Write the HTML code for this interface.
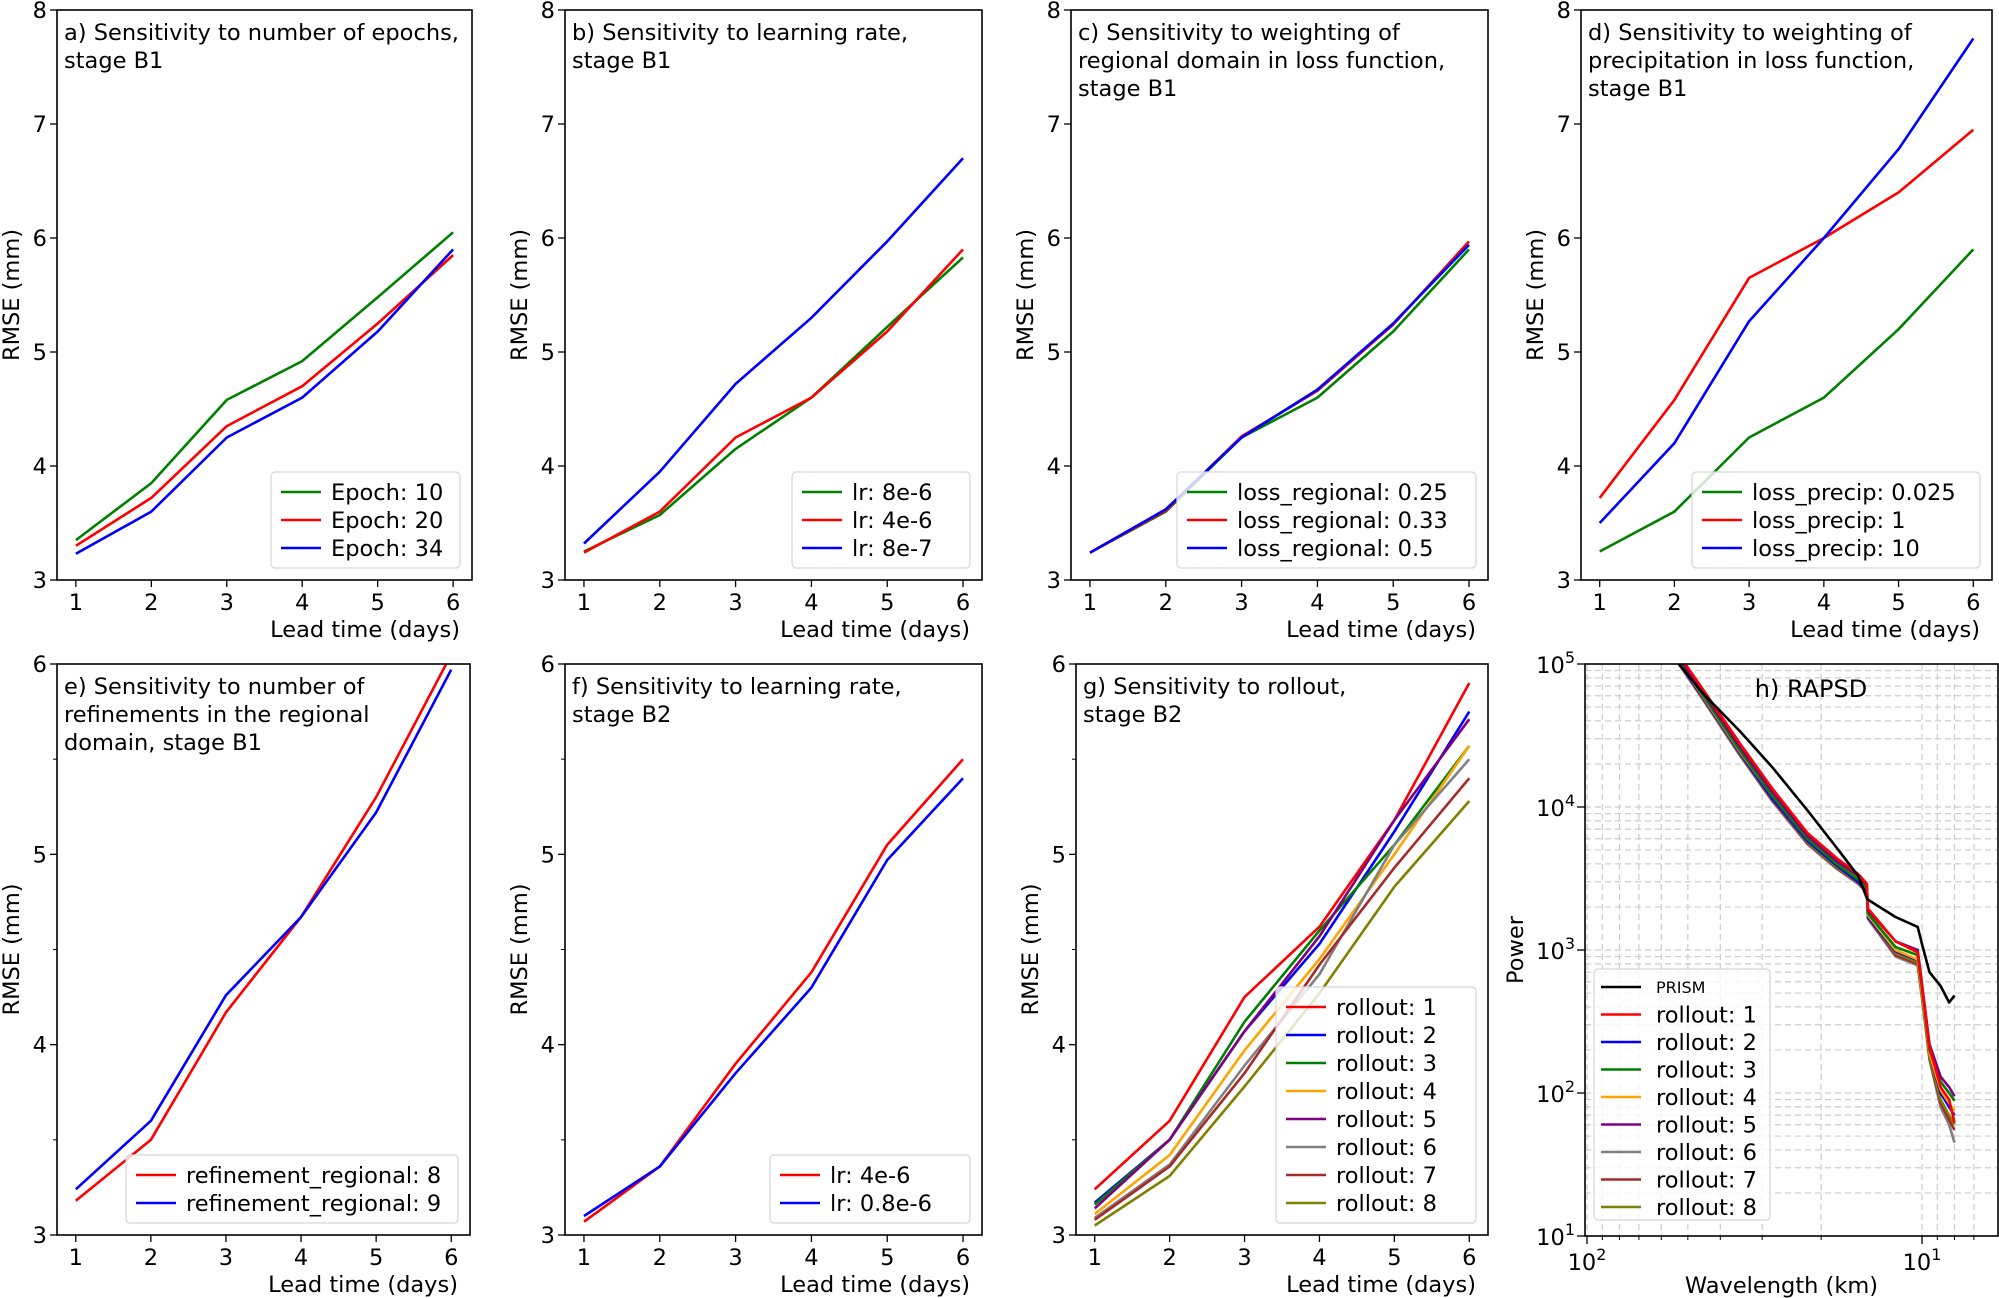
<!DOCTYPE html>
<html><head><meta charset="utf-8">
<style>
html,body{margin:0;padding:0;background:#fff;}
svg{display:block;font-family:"DejaVu Sans","Liberation Sans",sans-serif;}
</style></head>
<body>
<svg id="fig" width="1999" height="1298" viewBox="0 0 1999 1298" xmlns="http://www.w3.org/2000/svg"></svg>
<script>
// ---------- data ----------
const leadDays = [1,2,3,4,5,6];
const xTicks = [1,2,3,4,5,6];
const yTicksTop = [3,4,5,6,7,8];
const yTicksBottom = [3,4,5,6];
// a
const epoch10 = [3.35,3.85,4.58,4.92,5.48,6.05];
const epoch20 = [3.30,3.72,4.35,4.70,5.25,5.85];
const epoch34 = [3.23,3.60,4.25,4.60,5.18,5.90];
// b
const lrB1_8e6 = [3.25,3.57,4.15,4.60,5.22,5.83];
const lrB1_4e6 = [3.24,3.60,4.25,4.60,5.18,5.90];
const lrB1_8e7 = [3.32,3.95,4.72,5.30,5.97,6.70];
// c
const reg025 = [3.24,3.60,4.25,4.60,5.18,5.90];
const reg033 = [3.24,3.61,4.26,4.66,5.24,5.97];
const reg05  = [3.24,3.62,4.25,4.67,5.25,5.94];
// d
const precip0025 = [3.25,3.60,4.25,4.60,5.20,5.90];
const precip1    = [3.72,4.58,5.65,6.00,6.40,6.95];
const precip10   = [3.50,4.20,5.27,6.00,6.78,7.75];
// e
const refine8 = [3.18,3.50,4.17,4.67,5.30,6.05];
const refine9 = [3.24,3.60,4.26,4.67,5.22,5.97];
// f
const lrB2_4e6  = [3.07,3.36,3.90,4.38,5.05,5.50];
const lrB2_08e6 = [3.10,3.36,3.85,4.30,4.97,5.40];
// g
const roll1 = [3.24,3.60,4.25,4.62,5.18,5.90];
const roll2 = [3.17,3.50,4.07,4.53,5.12,5.75];
const roll3 = [3.16,3.50,4.12,4.60,5.05,5.57];
const roll4 = [3.11,3.42,3.97,4.45,5.00,5.57];
const roll5 = [3.14,3.50,4.07,4.57,5.18,5.71];
const roll6 = [3.09,3.37,3.89,4.37,5.05,5.50];
const roll7 = [3.08,3.36,3.85,4.42,4.93,5.40];
const roll8 = [3.05,3.31,3.78,4.27,4.83,5.28];
// h (RAPSD) wavelength in km, power
const wavelengths = [55,45,35,28,22,18,15.5,14.6,14.5,12,10.3,10.0,9.5,8.8,8.3,8.0];
const psdPrism = [110000,62000,34000,19000,9500,5200,3300,2300,2250,1700,1450,1100,700,560,430,480];
const psdRoll1 = [130000,66000,28000,13500,6600,4400,3400,2900,1950,1150,960,560,210,110,90,62];
const psdRoll2 = [115000,58000,24000,11500,5800,3900,3000,2600,1700,980,850,500,190,100,80,70];
const psdRoll3 = [118000,60000,25000,12000,6000,4000,3100,2700,1800,1050,920,540,200,120,100,88];
const psdRoll4 = [118000,59000,24500,12000,6000,4050,3150,2700,1750,1000,860,500,190,105,85,75];
const psdRoll5 = [125000,63000,26500,12800,6300,4200,3300,2850,1900,1150,1000,580,220,130,110,95];
const psdRoll6 = [112000,56000,23000,11000,5500,3700,2900,2500,1650,900,780,460,170,80,60,45];
const psdRoll7 = [114000,57000,23500,11200,5600,3750,2950,2550,1680,920,800,470,175,85,65,55];
const psdRoll8 = [116000,58000,24000,11500,5700,3800,3000,2600,1700,950,820,480,180,90,70,60];

const C = {green:'#008000',red:'#ff0000',blue:'#0000ff',orange:'#ffa500',purple:'#800080',gray:'#808080',brown:'#a52a2a',olive:'#808000',black:'#000000'};
const FS = 22.5;
const NS='http://www.w3.org/2000/svg';
const svg=document.getElementById('fig');
function mk(tag,attrs,parent){const e=document.createElementNS(NS,tag);for(const k in attrs)e.setAttribute(k,attrs[k]);(parent||svg).appendChild(e);return e;}

const panels=[
 {id:'a',x0:57,x1:472,y0:10,y1:580,ymin:3,ymax:8,yt:yTicksTop,minor:false,title:['a) Sensitivity to number of epochs,','stage B1'],
  series:[['Epoch: 10',epoch10,C.green],['Epoch: 20',epoch20,C.red],['Epoch: 34',epoch34,C.blue]]},
 {id:'b',x0:565,x1:982,y0:10,y1:580,ymin:3,ymax:8,yt:yTicksTop,minor:false,title:['b) Sensitivity to learning rate,','stage B1'],
  series:[['lr: 8e-6',lrB1_8e6,C.green],['lr: 4e-6',lrB1_4e6,C.red],['lr: 8e-7',lrB1_8e7,C.blue]]},
 {id:'c',x0:1071,x1:1488,y0:10,y1:580,ymin:3,ymax:8,yt:yTicksTop,minor:false,title:['c) Sensitivity to weighting of','regional domain in loss function,','stage B1'],
  series:[['loss_regional: 0.25',reg025,C.green],['loss_regional: 0.33',reg033,C.red],['loss_regional: 0.5',reg05,C.blue]]},
 {id:'d',x0:1581,x1:1992,y0:10,y1:580,ymin:3,ymax:8,yt:yTicksTop,minor:false,title:['d) Sensitivity to weighting of','precipitation in loss function,','stage B1'],
  series:[['loss_precip: 0.025',precip0025,C.green],['loss_precip: 1',precip1,C.red],['loss_precip: 10',precip10,C.blue]]},
 {id:'e',x0:57,x1:470,y0:664,y1:1235,ymin:3,ymax:6,yt:yTicksBottom,minor:true,title:['e) Sensitivity to number of','refinements in the regional','domain, stage B1'],
  series:[['refinement_regional: 8',refine8,C.red],['refinement_regional: 9',refine9,C.blue]]},
 {id:'f',x0:565,x1:982,y0:664,y1:1235,ymin:3,ymax:6,yt:yTicksBottom,minor:true,title:['f) Sensitivity to learning rate,','stage B2'],
  series:[['lr: 4e-6',lrB2_4e6,C.red],['lr: 0.8e-6',lrB2_08e6,C.blue]]},
 {id:'g',x0:1076,x1:1488,y0:664,y1:1235,ymin:3,ymax:6,yt:yTicksBottom,minor:true,title:['g) Sensitivity to rollout,','stage B2'],
  series:[['rollout: 1',roll1,C.red],['rollout: 2',roll2,C.blue],['rollout: 3',roll3,C.green],['rollout: 4',roll4,C.orange],['rollout: 5',roll5,C.purple],['rollout: 6',roll6,C.gray],['rollout: 7',roll7,C.brown],['rollout: 8',roll8,C.olive]]}
];

panels.forEach(p=>{
  const g=mk('g',{});
  
  
  const sx=v=>p.x0+(v-0.75)/5.5*(p.x1-p.x0);
  const sy=v=>p.y1-(v-p.ymin)/(p.ymax-p.ymin)*(p.y1-p.y0);
  const cid='clip'+p.id;
  const cp=mk('clipPath',{id:cid},g);mk('rect',{x:p.x0,y:p.y0,width:p.x1-p.x0,height:p.y1-p.y0},cp);
  p.series.forEach(s=>{
    const pts=leadDays.map((d,i)=>sx(d).toFixed(1)+','+sy(s[1][i]).toFixed(1)).join(' ');
    const pl=mk('polyline',{points:pts,fill:'none',stroke:s[2],'stroke-width':2.6,'clip-path':'url(#'+cid+')','stroke-linejoin':'round'},g);
    
    
  });
  const fr=mk('rect',{x:p.x0,y:p.y0,width:p.x1-p.x0,height:p.y1-p.y0,fill:'none',stroke:'#000','stroke-width':1.6},g);
  
  
  xTicks.forEach(t=>{
    mk('line',{x1:sx(t),x2:sx(t),y1:p.y1,y2:p.y1+7,stroke:'#000','stroke-width':1.3},g);
    const tx=mk('text',{x:sx(t),y:p.y1+30,'font-size':FS,'text-anchor':'middle'},g);tx.textContent=t;
    
    
  });
  p.yt.forEach(t=>{
    mk('line',{x1:p.x0-7,x2:p.x0,y1:sy(t),y2:sy(t),stroke:'#000','stroke-width':1.3},g);
    const ty=mk('text',{x:p.x0-10,y:sy(t)+8,'font-size':FS,'text-anchor':'end'},g);ty.textContent=t;
    
    
    if(p.minor && t<p.ymax) mk('line',{x1:p.x0-4,x2:p.x0,y1:sy(t+0.5),y2:sy(t+0.5),stroke:'#000','stroke-width':1},g);
  });
  const xl=mk('text',{x:p.x1-12,y:p.y1+57,'font-size':FS,'text-anchor':'end'},g);xl.textContent='Lead time (days)';
  
  
  const cy=(p.y0+p.y1)/2;
  const yl=mk('text',{x:p.x0-38,y:cy,'font-size':FS,'text-anchor':'middle',transform:'rotate(-90 '+(p.x0-38)+' '+cy+')'},g);yl.textContent='RMSE (mm)';
  
  
  p.title.forEach((ln,i)=>{
    const t=mk('text',{x:p.x0+7,y:p.y0+30+i*28,'font-size':FS},g);t.textContent=ln;
    
    
  });
  const rowH=28;
  const maxLen=Math.max(...p.series.map(s=>s[0].length));
  const lw=90+maxLen*11;
  const lh=p.series.length*rowH+12;
  const lx=p.x1-12-lw, ly=p.y1-12-lh;
  const lg=mk('g',{},g);
  
  
  mk('rect',{x:lx,y:ly,width:lw,height:lh,rx:4,fill:'#fff','fill-opacity':0.8,stroke:'#d6d6d6','stroke-width':1.2},lg);
  p.series.forEach((s,i)=>{
    const yy=ly+6+rowH*i+rowH/2;
    mk('line',{x1:lx+10,x2:lx+50,y1:yy,y2:yy,stroke:s[2],'stroke-width':2.6},lg);
    const t=mk('text',{x:lx+60,y:yy+8,'font-size':FS},lg);t.textContent=s[0];
    
    
  });
});

// ---------- panel h ----------
(function(){
  const x0=1585,x1=1998,y0=664,y1=1236;
  const dec=335;
  const sx=w=>1587+(2-Math.log10(w))*dec;
  const sy=v=>y1-(Math.log10(v)-1)/4*(y1-y0);
  const g=mk('g',{});
  
  
  const cp=mk('clipPath',{id:'cliph'},g);mk('rect',{x:x0,y:y0,width:x1-x0,height:y1-y0},cp);
  const gridX=[100,90,80,70,60,50,40,30,20,10,9,8,7];
  gridX.forEach(w=>{const X=sx(w);if(X>x0&&X<x1)mk('line',{x1:X,x2:X,y1:y0,y2:y1,stroke:'#cccccc','stroke-width':1.2,'stroke-dasharray':'6,4'},g);});
  for(let d=1;d<5;d++)for(let m=1;m<10;m++){const v=m*Math.pow(10,d);const Y=sy(v);if(Y>y0&&Y<y1)mk('line',{x1:x0,x2:x1,y1:Y,y2:Y,stroke:'#cccccc','stroke-width':1.2,'stroke-dasharray':'6,4'},g);}
  const series=[['PRISM',psdPrism,C.black],['rollout: 1',psdRoll1,C.red],['rollout: 2',psdRoll2,C.blue],['rollout: 3',psdRoll3,C.green],['rollout: 4',psdRoll4,C.orange],['rollout: 5',psdRoll5,C.purple],['rollout: 6',psdRoll6,C.gray],['rollout: 7',psdRoll7,C.brown],['rollout: 8',psdRoll8,C.olive]];
  const order=[6,7,8,2,4,3,5,1,0];
  order.forEach(k=>{const s=series[k];
    const pts=wavelengths.map((w,i)=>sx(w).toFixed(1)+','+sy(s[1][i]).toFixed(1)).join(' ');
    const pl=mk('polyline',{points:pts,fill:'none',stroke:s[2],'stroke-width':2.6,'clip-path':'url(#cliph)','stroke-linejoin':'round'},g);
    
    
  });
  const fr=mk('rect',{x:x0,y:y0,width:x1-x0,height:y1-y0,fill:'none',stroke:'#000','stroke-width':1.6},g);
  
  
  [[100,'2'],[10,'1']].forEach(([w,e])=>{
    const X=sx(w);mk('line',{x1:X,x2:X,y1:y1,y2:y1+8,stroke:'#000','stroke-width':1.3},g);
    const t=mk('text',{x:X,y:y1+34,'font-size':FS,'text-anchor':'middle'},g);
    t.textContent='10';const ts=mk('tspan',{dy:-10,'font-size':16},t);ts.textContent=e;
    
    
  });
  gridX.forEach(w=>{const X=sx(w);if(X>x0&&X<x1&&w!==100&&w!==10)mk('line',{x1:X,x2:X,y1:y1,y2:y1+4,stroke:'#000','stroke-width':1},g);});
  [[10,'1'],[100,'2'],[1000,'3'],[10000,'4'],[100000,'5']].forEach(([v,e])=>{
    const Y=sy(v);mk('line',{x1:x0-8,x2:x0,y1:Y,y2:Y,stroke:'#000','stroke-width':1.3},g);
    const t=mk('text',{x:x0-10,y:Y+9,'font-size':FS,'text-anchor':'end'},g);
    t.textContent='10';const ts=mk('tspan',{dy:-10,'font-size':16},t);ts.textContent=e;
    
    
  });
  const xl=mk('text',{x:(x0+x1)/2-10,y:y1+57,'font-size':FS,'text-anchor':'middle'},g);xl.textContent='Wavelength (km)';
  
  
  const cy=(y0+y1)/2;
  const yl=mk('text',{x:x0-62,y:cy,'font-size':FS,'text-anchor':'middle',transform:'rotate(-90 '+(x0-62)+' '+cy+')'},g);yl.textContent='Power';
  
  
  const tt=mk('text',{x:1811,y:697,'font-size':24,'text-anchor':'middle'},g);tt.textContent='h) RAPSD';
  
  
  const lg=mk('g',{},g);
  
  
  const lx=1594,ly=969,lw=176,lh=251,rowH=27.5;
  mk('rect',{x:lx,y:ly,width:lw,height:lh,rx:4,fill:'#fff','fill-opacity':0.8,stroke:'#d6d6d6','stroke-width':1.2},lg);
  series.forEach((s,i)=>{
    const yy=ly+18+rowH*i;
    mk('line',{x1:lx+7,x2:lx+47,y1:yy,y2:yy,stroke:s[2],'stroke-width':2.6},lg);
    const t=mk('text',{x:lx+62,y:yy+(i===0?6:8),'font-size':i===0?16:FS},lg);t.textContent=s[0];
    
    
  });
})();
</script>
</body></html>
